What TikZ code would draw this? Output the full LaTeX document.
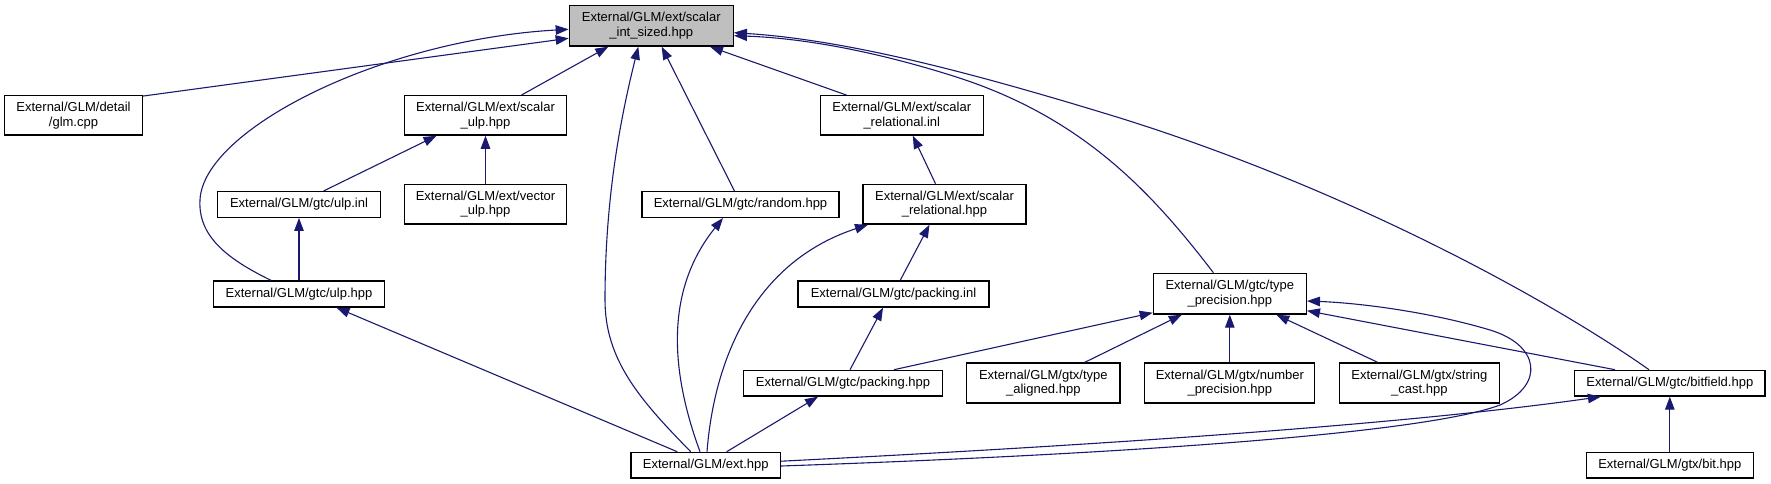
\documentclass[tikz,border=0pt]{standalone}
\usepackage{fontspec}
\setmainfont{Liberation Sans}
\usetikzlibrary{arrows.meta,calc}
\definecolor{edgeblue}{HTML}{191970}
\definecolor{maingray}{HTML}{BFBFBF}
\begin{document}
\begin{tikzpicture}[x=1pt,y=-1pt,
  box/.style={draw=black,line width=1.3pt,fill=white,inner sep=0pt,align=center,
    font=\fontsize{13}{14.5}\selectfont},
  edge/.style={draw=edgeblue,line width=1.1pt,-{Triangle[length=13pt,width=9.5pt]}}]
\useasboundingbox (0,0) rectangle (1771,484);
% nodes
\node[box,fill=maingray,minimum width=164pt,minimum height=40.7pt] (main) at (651.3,25.7) {External/GLM/ext/scalar\\\_int\_sized.hpp};
\node[box,minimum width=138pt,minimum height=39.4pt] (glm) at (73.5,115.4) {External/GLM/detail\\/glm.cpp};
\node[box,minimum width=162pt,minimum height=39.4pt] (sulp) at (485.5,115.4) {External/GLM/ext/scalar\\\_ulp.hpp};
\node[box,minimum width=163pt,minimum height=39.4pt] (srelinl) at (901.8,115.4) {External/GLM/ext/scalar\\\_relational.inl};
\node[box,minimum width=163pt,minimum height=25.6pt] (ulpinl) at (299,204.5) {External/GLM/gtc/ulp.inl};
\node[box,minimum width=162pt,minimum height=39.7pt] (vulp) at (485.5,204.2) {External/GLM/ext/vector\\\_ulp.hpp};
\node[box,minimum width=197pt,minimum height=25.6pt] (random) at (740.5,204.5) {External/GLM/gtc/random.hpp};
\node[box,minimum width=163pt,minimum height=39.7pt] (srelhpp) at (944.5,204.2) {External/GLM/ext/scalar\\\_relational.hpp};
\node[box,minimum width=171.5pt,minimum height=26pt] (ulphpp) at (299,294) {External/GLM/gtc/ulp.hpp};
\node[box,minimum width=191pt,minimum height=26pt] (packinl) at (893.5,294) {External/GLM/gtc/packing.inl};
\node[box,minimum width=153pt,minimum height=40.7pt] (typeprec) at (1229.8,293.7) {External/GLM/gtc/type\\\_precision.hpp};
\node[box,minimum width=199pt,minimum height=25.7pt] (packhpp) at (843,383.2) {External/GLM/gtc/packing.hpp};
\node[box,minimum width=153.4pt,minimum height=40pt] (typealigned) at (1043.3,383) {External/GLM/gtx/type\\\_aligned.hpp};
\node[box,minimum width=170pt,minimum height=40pt] (numprec) at (1229.8,383) {External/GLM/gtx/number\\\_precision.hpp};
\node[box,minimum width=160pt,minimum height=40pt] (strcast) at (1419.3,383) {External/GLM/gtx/string\\\_cast.hpp};
\node[box,minimum width=190.5pt,minimum height=25.7pt] (bitfield) at (1669.8,383.2) {External/GLM/gtc/bitfield.hpp};
\node[box,minimum width=149.7pt,minimum height=25.7pt] (ext) at (705.7,465.2) {External/GLM/ext.hpp};
\node[box,minimum width=166.8pt,minimum height=25.7pt] (bit) at (1669.8,465.2) {External/GLM/gtx/bit.hpp};
% edges (arrow at the included file)
\draw[edge] ($(glm.north east)+(0,1)$) -- ($(main.west)+(0,12.6)$);
\draw[edge] ($(ulphpp.north)+(-28,0)$) .. controls (225,258) and (198,235) .. (200,200) .. controls (203,130) and (380,40) .. ($(main.west)+(0,3.6)$);
\draw[edge] ($(sulp.north)+(36,0)$) -- ($(main.south)+(-43,0)$);
\draw[edge] ($(ext.north)+(-15,0)$) .. controls (640,400) and (605,360) .. (605,300) .. controls (605,200) and (620,120) .. ($(main.south)+(-13,0)$);
\draw[edge] ($(random.north)+(-6,0)$) -- ($(main.south)+(10.4,0)$);
\draw[edge] ($(srelinl.north)+(-55.4,0)$) -- ($(main.south)+(58.7,0)$);
\draw[edge] ($(typeprec.north)+(-16.4,0)$) .. controls (1150,190) and (1080,115) .. (950,75) .. controls (870,50) and (800,38) .. ($(main.east)+(0,10)$);
\draw[edge] ($(bitfield.north)+(-20.8,0)$) .. controls (1550,300) and (1350,190) .. (1120,118) .. controls (980,75) and (850,40) .. ($(main.east)+(0,7)$);
\draw[edge] ($(ulpinl.north)+(24.4,0)$) -- ($(sulp.south)+(-49,0)$);
\draw[edge] (vulp.north) -- (sulp.south);
\draw[edge] (ulphpp.north) -- (ulpinl.south);
\draw[edge] ($(ext.north west)+(47,0)$) -- ($(ulphpp.south)+(37.5,0)$);
\draw[edge] ($(srelhpp.north)+(-9,0)$) -- ($(srelinl.south)+(11,0)$);
\draw[edge] ($(packinl.north)+(6.7,0)$) -- ($(srelhpp.south)+(-15,0)$);
\draw[edge] ($(packhpp.north)+(7,0)$) -- ($(packinl.south)+(-10.5,0)$);
\draw[edge] ($(ext.north)+(21,0)$) -- ($(packhpp.south)+(-25,0)$);
\draw[edge] ($(ext.north)+(-5.7,0)$) .. controls (670,370) and (665,290) .. ($(random.south)+(-17.5,0)$);
\draw[edge] ($(ext.north)+(1.3,0)$) .. controls (715,350) and (760,260) .. ($(srelhpp.south)+(-76.5,0)$);
\draw[edge] ($(packhpp.north)+(51,0)$) -- ($(typeprec.south west)+(0,-2)$);
\draw[edge] ($(typealigned.north)+(41.4,0)$) -- ($(typeprec.south)+(-48,0)$);
\draw[edge] (numprec.north) -- (typeprec.south);
\draw[edge] ($(strcast.north)+(-41.6,0)$) -- ($(typeprec.south)+(46.5,0)$);
\draw[edge] ($(bitfield.north)+(-54.8,0)$) -- ($(typeprec.east)+(0,17)$);
\draw[edge] ($(ext.east)+(0,0.8)$) .. controls (1100,455) and (1420,435) .. (1500,405) .. controls (1545,385) and (1540,345) .. (1490,330) .. controls (1430,312) and (1360,303) .. ($(typeprec.east)+(0,7.3)$);
\draw[edge] ($(ext.east)+(0,-4)$) .. controls (1100,445) and (1400,425) .. ($(bitfield.south west)+(27,0)$);
\draw[edge] (bit.north) -- (bitfield.south);
\end{tikzpicture}
\end{document}
